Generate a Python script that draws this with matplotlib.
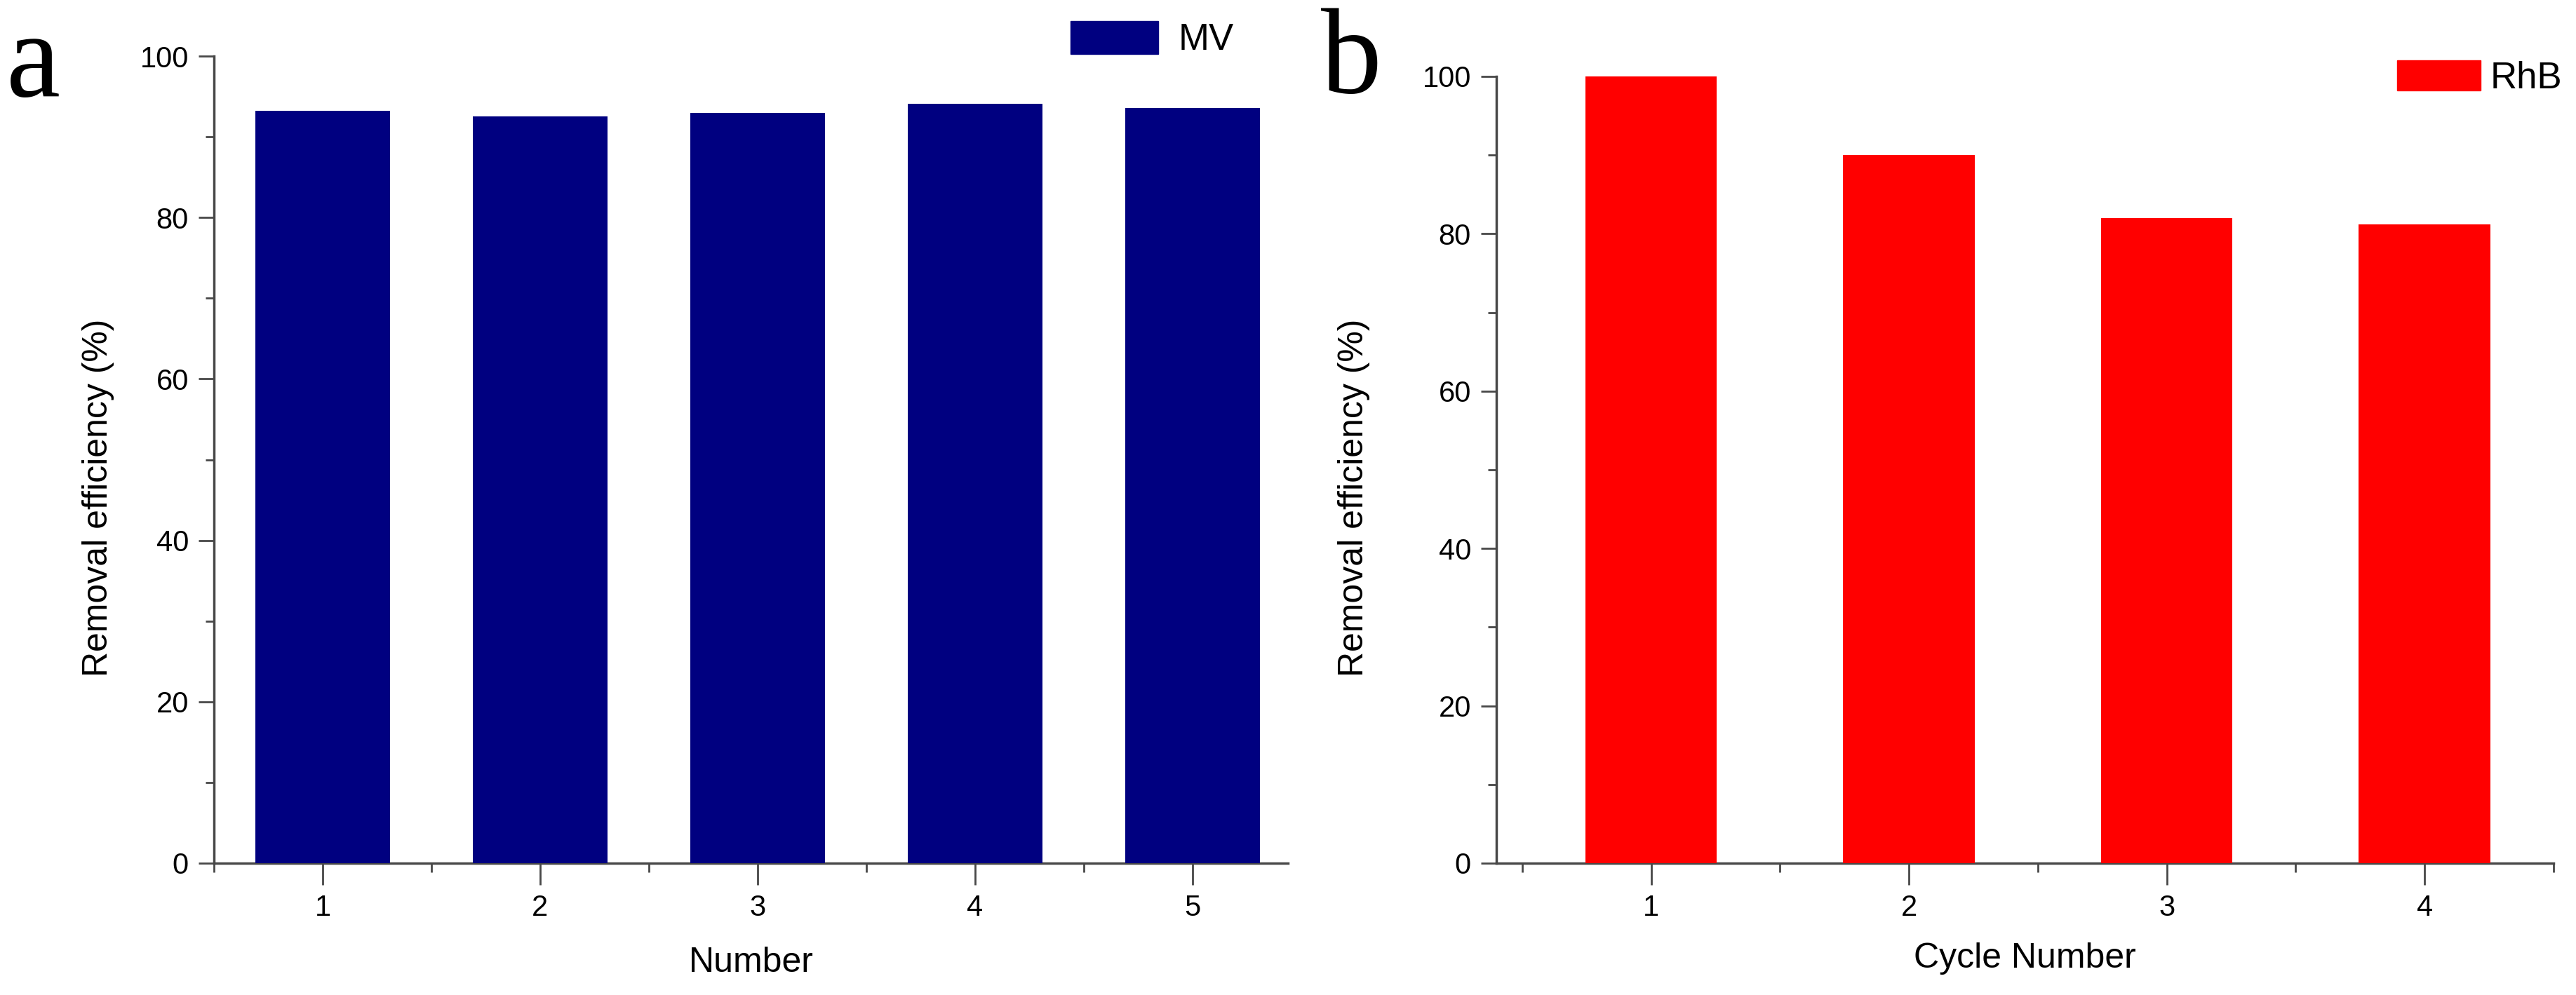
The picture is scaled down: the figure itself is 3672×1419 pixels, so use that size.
import matplotlib
matplotlib.use("Agg")
import matplotlib.pyplot as plt
from matplotlib.patches import Patch
from matplotlib.ticker import MultipleLocator

plt.rcParams['font.family'] = ['Liberation Sans', 'DejaVu Sans']

cycles_a = [1, 2, 3, 4, 5]
values_a = [93.2, 92.5, 93.0, 94.1, 93.6]
cycles_b = [1, 2, 3, 4]
values_b = [100.0, 90.0, 82.0, 81.2]

W, H = 3673, 1419
fig = plt.figure(figsize=(W/100, H/100), dpi=100)

def fx(px): return px / W
def fy(py): return 1 - py / H

ax1 = fig.add_axes([fx(305), fy(1231), fx(1836) - fx(305), fy(80) - fy(1231)])
ax2 = fig.add_axes([fx(2133), fy(1231), fx(3640) - fx(2133), fy(109) - fy(1231)])

spc = '#484848'
for ax in (ax1, ax2):
    for s in ('top', 'right'):
        ax.spines[s].set_visible(False)
    for s in ('left', 'bottom'):
        ax.spines[s].set_color(spc)
        ax.spines[s].set_linewidth(2.5)
    ax.set_ylim(0, 100)
    ax.yaxis.set_major_locator(MultipleLocator(20))
    ax.yaxis.set_minor_locator(MultipleLocator(10))
    ax.xaxis.set_minor_locator(MultipleLocator(0.5))
    ax.tick_params(which='major', direction='out', length=16, width=2, color=spc, labelsize=30, pad=10)
    ax.tick_params(which='minor', direction='out', length=9, width=2, color=spc)
    ax.tick_params(axis='x', which='major', length=22)

ax1.bar(cycles_a, values_a, width=0.62, color='#000080', zorder=3)
ax1.set_xlim(0.5, 5.44)
ax1.set_xticks(cycles_a)
ax2.bar(cycles_b, values_b, width=0.51, color='#ff0000', zorder=3)
ax2.set_xlim(0.4, 4.5)
ax2.set_xticks(cycles_b)

ax1.set_ylabel('Removal efficiency (%)', fontsize=36)
ax1.yaxis.set_label_coords(fx(140), 0.5, transform=fig.transFigure)
ax2.set_ylabel('Removal efficiency (%)', fontsize=36)
ax2.yaxis.set_label_coords(fx(1930), 0.5, transform=fig.transFigure)
ax1.set_xlabel('Number', fontsize=36)
ax1.xaxis.set_label_coords(fx(1071), fy(1373), transform=fig.transFigure)
ax2.set_xlabel('Cycle Number', fontsize=36)
ax2.xaxis.set_label_coords(fx(2886), fy(1367), transform=fig.transFigure)
for ax in (ax1, ax2):
    ax.xaxis.label.set_va('center')
    ax.yaxis.label.set_va('center')

fs = 38
fpx = fs * 100 / 72
ax1.legend(handles=[Patch(color='#000080', label='MV')], loc='upper left',
           bbox_to_anchor=(fx(1526), fy(30)), bbox_transform=fig.transFigure,
           frameon=False, fontsize=fs, borderpad=0, borderaxespad=0,
           handlelength=125/fpx, handleheight=52/fpx, handletextpad=29/fpx)
ax2.legend(handles=[Patch(color='#ff0000', label='RhB')], loc='upper left',
           bbox_to_anchor=(fx(3417), fy(86)), bbox_transform=fig.transFigure,
           frameon=False, fontsize=fs, borderpad=0, borderaxespad=0,
           handlelength=119/fpx, handleheight=47/fpx, handletextpad=14/fpx)

fig.text(fx(47), fy(95), 'a', fontsize=125, family='Liberation Serif', ha='center', va='center')
fig.text(fx(1836 + 90), fy(90), 'b', fontsize=125, family='Liberation Serif', ha='center', va='center')

fig.savefig('out.png', dpi=100)
